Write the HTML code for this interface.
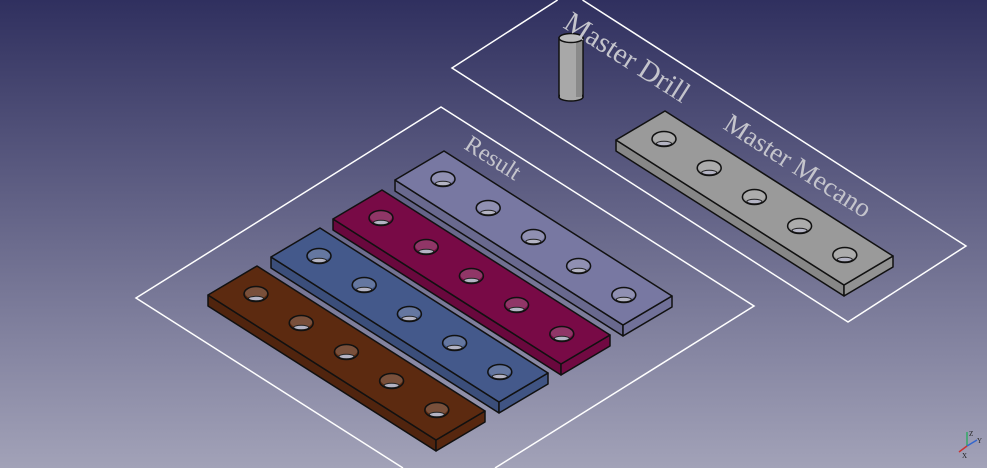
<!DOCTYPE html>
<html><head><meta charset="utf-8"><style>
html,body{margin:0;padding:0;}
body{width:987px;height:468px;overflow:hidden;}
svg{display:block;}
text{font-family:"Liberation Serif",serif;fill:#c4c4cc;}
</style></head><body>
<svg width="987" height="468" viewBox="0 0 987 468" xmlns="http://www.w3.org/2000/svg">
<defs>
<linearGradient id="bg" x1="0" y1="0" x2="0" y2="1">
<stop offset="0" stop-color="#30305f"/>
<stop offset="1" stop-color="#a2a2b8"/>
</linearGradient>
<g id="hole">
<ellipse cx="0" cy="0" rx="12" ry="7.5" fill="currentColor"/>
<ellipse cx="0" cy="-1" rx="11" ry="6" fill="#fff" opacity="0.18"/>
<ellipse cx="0" cy="4.5" rx="7.5" ry="2.2" fill="#b4b4c4" stroke="#222" stroke-width="1"/>
<ellipse cx="0" cy="0" rx="12" ry="7.5" fill="none" stroke="#111" stroke-width="1.5"/>
</g>
<g id="bar" stroke-linejoin="round">
<polygon points="0,0 228,145 228,156 0,11" fill="currentColor" stroke="#111" stroke-width="1.5"/>
<polygon points="0,0 228,145 228,156 0,11" fill="#000" opacity="0.12"/>
<polygon points="228,145 277,116 277,127 228,156" fill="currentColor" stroke="#111" stroke-width="1.5"/>
<polygon points="228,145 277,116 277,127 228,156" fill="#000" opacity="0.05"/>
<polygon points="0,0 49,-29 277,116 228,145" fill="currentColor" stroke="#111" stroke-width="1.5"/>
<use href="#hole" x="48" y="-1"/>
<use href="#hole" x="93.2" y="28"/>
<use href="#hole" x="138.4" y="57"/>
<use href="#hole" x="183.6" y="86"/>
<use href="#hole" x="228.8" y="115"/>
</g>
</defs>
<rect width="987" height="468" fill="url(#bg)"/>
<polyline points="403,468 136,298 441,107 754,306 495,468" fill="none" stroke="#fff" stroke-width="1.5"/>
<polyline points="557.6,0 452,68 848,322 966,246 582.5,0" fill="none" stroke="#fff" stroke-width="1.5"/>

<use href="#bar" x="395" y="180" color="#7878a2"/>
<use href="#bar" x="333" y="219" color="#780a46"/>
<use href="#bar" x="271" y="257" color="#44598b"/>
<use href="#bar" x="208" y="295" color="#5c2a10"/>
<use href="#bar" x="616" y="140" color="#9a9a9a"/>

<rect x="559" y="38" width="24" height="59" fill="#a8a8a8" stroke="#111" stroke-width="1.5"/>
<ellipse cx="571" cy="97" rx="12" ry="4" fill="#a8a8a8" stroke="#111" stroke-width="1.5"/>
<rect x="560" y="38" width="22" height="59" fill="#a8a8a8"/>
<rect x="576" y="40" width="6" height="57" fill="#8a8a8a"/>
<ellipse cx="571" cy="38" rx="12" ry="4.5" fill="#bdbdbd" stroke="#111" stroke-width="1.5"/>

<text font-size="24" transform="translate(463,148) rotate(32.5)">Result</text>
<text font-size="29" transform="translate(562,27) rotate(32.5)">Master Drill</text>
<text font-size="27" transform="translate(722,128) rotate(32.5)">Master Mecano</text>

<g stroke-width="1.5">
<line x1="967" y1="446" x2="967" y2="432" stroke="#3a6"/>
<line x1="967" y1="446" x2="977" y2="440" stroke="#36c"/>
<line x1="967" y1="446" x2="959" y2="452" stroke="#c33"/>
</g>
<text x="969" y="436" font-size="7" style="fill:#222">Z</text>
<text x="977" y="443" font-size="7" style="fill:#222">Y</text>
<text x="962" y="458" font-size="7" style="fill:#222">X</text>
</svg>
</body></html>
